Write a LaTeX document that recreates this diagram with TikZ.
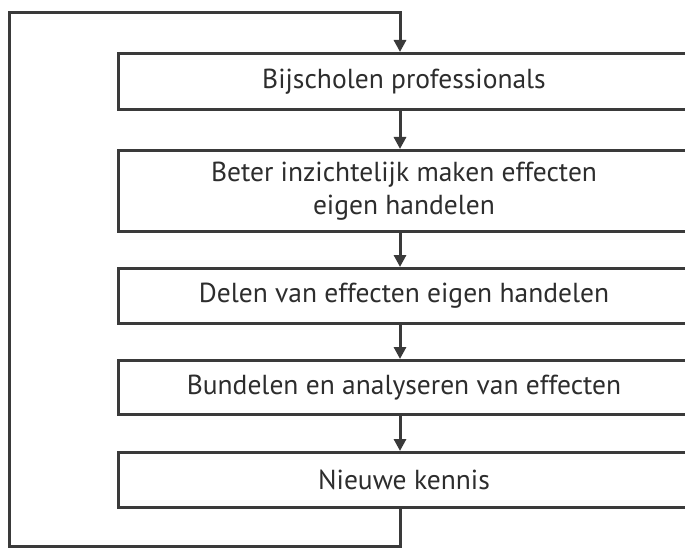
\documentclass[tikz,border=0pt]{standalone}
\usepackage{fontspec}
\setmainfont{PT Sans}
\usepackage{tikz}
\usetikzlibrary{arrows.meta, positioning}
\definecolor{lijn}{RGB}{58,58,58}
\definecolor{tekst}{RGB}{45,45,45}

\begin{document}
\begin{tikzpicture}[x=1pt, y=-1pt,
    stap/.style={draw=lijn, line width=3pt, fill=white, inner sep=0pt, outer sep=1.5pt,
        minimum width=571pt, anchor=north west, align=center, text=tekst,
        font=\fontsize{27.5}{33}\selectfont},
    pijl/.style={draw=lijn, line width=3pt, -{Triangle[width=12pt, length=12pt]}}]
\useasboundingbox (0,0) rectangle (685,548);
% stappen
\node[stap, minimum height=56pt] (b1) at (117,52) {Bijscholen professionals};
\node[stap, minimum height=81pt] (b2) at (117,149) {Beter inzichtelijk maken effecten\\eigen handelen};
\node[stap, minimum height=55pt] (b3) at (117,267) {Delen van effecten eigen handelen};
\node[stap, minimum height=54pt] (b4) at (117,359) {Bundelen en analyseren van effecten};
\node[stap, minimum height=55pt] (b5) at (117,451) {Nieuwe kennis};
\coordinate (kol) at (400,0);
\foreach \a/\b in {b1/b2, b2/b3, b3/b4, b4/b5} {
    \draw[pijl] (\a.south -| kol) -- (\b.north -| kol);
}
% terugkoppeling
\coordinate (onder) at (9,546);
\coordinate (boven) at (9,13);
\draw[pijl] (b5.south -| kol) |- (onder) -- (boven) -| (b1.north -| kol);
\end{tikzpicture}
\end{document}
